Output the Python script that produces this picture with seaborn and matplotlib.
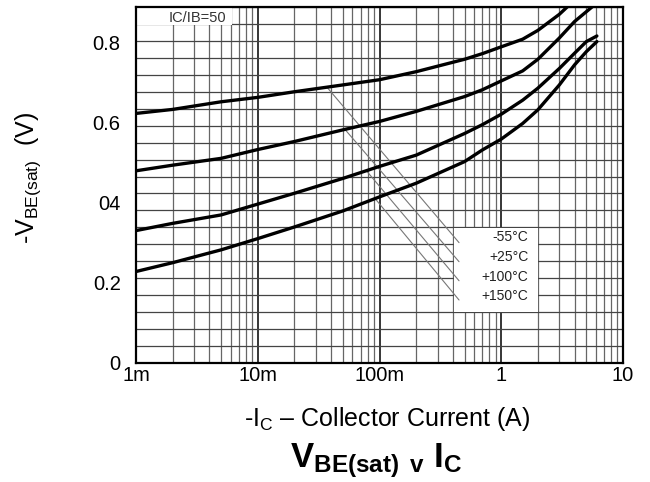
import numpy as np
import pandas as pd
import matplotlib
matplotlib.use("Agg")
import matplotlib.pyplot as plt
import seaborn as sns
from matplotlib.patches import Rectangle
from matplotlib.ticker import LogLocator, NullFormatter, FixedLocator

# ---------------- data ----------------
temps = ["-55°C", "+25°C", "+100°C", "+150°C"]

ic_m55 = [0.001, 0.002, 0.005, 0.01, 0.02, 0.05, 0.1, 0.2, 0.5, 0.7, 1.0, 1.5, 2.0, 3.0, 3.5]
vbe_m55 = [0.622, 0.632, 0.651, 0.662, 0.676, 0.693, 0.706, 0.726, 0.757, 0.771, 0.788, 0.807, 0.829, 0.869, 0.888]

ic_25 = [0.001, 0.002, 0.005, 0.01, 0.02, 0.05, 0.1, 0.2, 0.5, 0.7, 1.0, 1.5, 2.0, 3.0, 4.0, 5.6]
vbe_25 = [0.479, 0.493, 0.510, 0.532, 0.552, 0.581, 0.602, 0.627, 0.664, 0.681, 0.703, 0.728, 0.757, 0.810, 0.851, 0.888]

ic_100 = [0.001, 0.002, 0.005, 0.01, 0.02, 0.05, 0.1, 0.2, 0.5, 0.7, 1.0, 1.5, 2.0, 3.0, 4.0, 5.0, 6.1]
vbe_100 = [0.330, 0.348, 0.369, 0.396, 0.423, 0.460, 0.490, 0.518, 0.572, 0.594, 0.620, 0.655, 0.685, 0.734, 0.772, 0.801, 0.815]

ic_150 = [0.001, 0.002, 0.005, 0.01, 0.02, 0.05, 0.1, 0.2, 0.5, 0.7, 1.0, 1.5, 2.0, 3.0, 4.0, 5.0, 6.1]
vbe_150 = [0.228, 0.250, 0.282, 0.310, 0.339, 0.379, 0.414, 0.448, 0.502, 0.531, 0.558, 0.597, 0.631, 0.693, 0.743, 0.776, 0.801]

x_ticks = [0.001, 0.01, 0.1, 1, 10]
x_tick_labels = ["1m", "10m", "100m", "1", "10"]
y_ticks = [0, 0.2, 0.4, 0.6, 0.8]
y_tick_labels = ["0", "0.2", "04", "0.6", "0.8"]

# leader lines from curves to the temperature labels
leader_start_ic = [0.037, 0.052, 0.078, 0.092]
leader_end_ic = 0.45
leader_end_v = [0.300, 0.2525, 0.205, 0.157]
label_v = [0.313, 0.265, 0.215, 0.167]
label_ic = 1.67

ratio_text = "IC/IB=50"

# ---------------- build long-form table ----------------
series = [(ic_m55, vbe_m55), (ic_25, vbe_25), (ic_100, vbe_100), (ic_150, vbe_150)]
frames = []
for t, (ic, v) in zip(temps, series):
    frames.append(pd.DataFrame({"ic": ic, "vbe": v, "temp": t}))
df = pd.concat(frames, ignore_index=True)

# ---------------- style ----------------
sns.set_style("white")
plt.rcParams["font.family"] = ["Liberation Sans", "DejaVu Sans"]
plt.rcParams["mathtext.fontset"] = "custom"
plt.rcParams["mathtext.rm"] = "Liberation Sans"
plt.rcParams["mathtext.it"] = "Liberation Sans:italic"
plt.rcParams["mathtext.bf"] = "Liberation Sans:bold"
plt.rcParams["text.color"] = "black"
plt.rcParams["axes.labelcolor"] = "black"
plt.rcParams["xtick.color"] = "black"
plt.rcParams["ytick.color"] = "black"

fig = plt.figure(figsize=(6.5, 4.82), dpi=100)
ax = fig.add_axes([136 / 650, (482 - 363) / 482, (623 - 136) / 650, (363 - 7) / 482])

ymax = 356 / 401.25

sns.lineplot(data=df, x="ic", y="vbe", hue="temp", palette=["black"] * 4,
             legend=False, estimator=None, sort=False, linewidth=2.4, ax=ax, zorder=5)

ax.set_xscale("log")
ax.set_xlim(0.001, 10)
ax.set_ylim(0, ymax)

# grid
ax.set_axisbelow(True)
ax.xaxis.set_major_locator(FixedLocator(x_ticks))
ax.set_xticklabels(x_tick_labels)
ax.xaxis.set_minor_locator(LogLocator(base=10, subs=np.arange(2, 10)))
ax.xaxis.set_minor_formatter(NullFormatter())
ax.set_yticks(y_ticks)
ax.set_yticklabels(y_tick_labels)
ax.set_yticks(np.linspace(0, ymax, 22), minor=True)
ax.yaxis.set_minor_formatter(NullFormatter())

ax.xaxis.grid(True, which="major", color="black", linewidth=1.1, zorder=0)
ax.xaxis.grid(True, which="minor", color="#666666", linewidth=0.9, zorder=0)
ax.yaxis.grid(True, which="minor", color="#444444", linewidth=0.9, zorder=0)
ax.yaxis.grid(False, which="major")

ax.tick_params(axis="both", which="both", length=0, colors="black")
ax.tick_params(axis="y", labelsize=14.5, pad=11)
ax.tick_params(axis="x", labelsize=14.5, pad=2)

for s in ax.spines.values():
    s.set_visible(True)
    s.set_color("black")
    s.set_linewidth(1.6)
    s.set_zorder(6)

# white box behind temperature labels
ax.add_patch(Rectangle((0.41, 0.127), 2.0 - 0.41, 0.336 - 0.127, facecolor="white",
                       edgecolor="none", zorder=1.5))
# white box behind ratio text
ax.add_patch(Rectangle((0.001, 0.8425), 0.0061 - 0.001, ymax - 0.8425, facecolor="white",
                       edgecolor="none", zorder=1.5))

# leader lines
for (ic, v), s_ic, e_v in zip(series, leader_start_ic, leader_end_v):
    s_v = np.interp(np.log10(s_ic), np.log10(ic), v)
    ax.plot([s_ic, leader_end_ic], [s_v, e_v], color="#777777", linewidth=0.8, zorder=3)

for t, lv in zip(temps, label_v):
    ax.text(label_ic, lv, t, ha="right", va="center", fontsize=10, color="#222222", zorder=4)

ax.text(0.0032, 0.8606, ratio_text, ha="center", va="center", fontsize=10.5,
        color="#333333", zorder=4)

# axis labels
ax.set_xlabel(r"-I$_\mathregular{C}$ – Collector Current (A)", fontsize=18, color="black")
ax.xaxis.set_label_coords(0.515, -0.118)
ax.set_ylabel(r"-V$_\mathregular{BE(sat)}$  (V)", fontsize=18, color="black")
ax.yaxis.set_label_coords(-0.19, 0.52)

fig.text(0.579, (482 - 461) / 482, r"$\mathbf{V_{BE(sat)}\ {}_{v}\ I_{C}}$",
         ha="center", va="center", fontsize=25, color="black")

fig.savefig("out.png", dpi=100)
